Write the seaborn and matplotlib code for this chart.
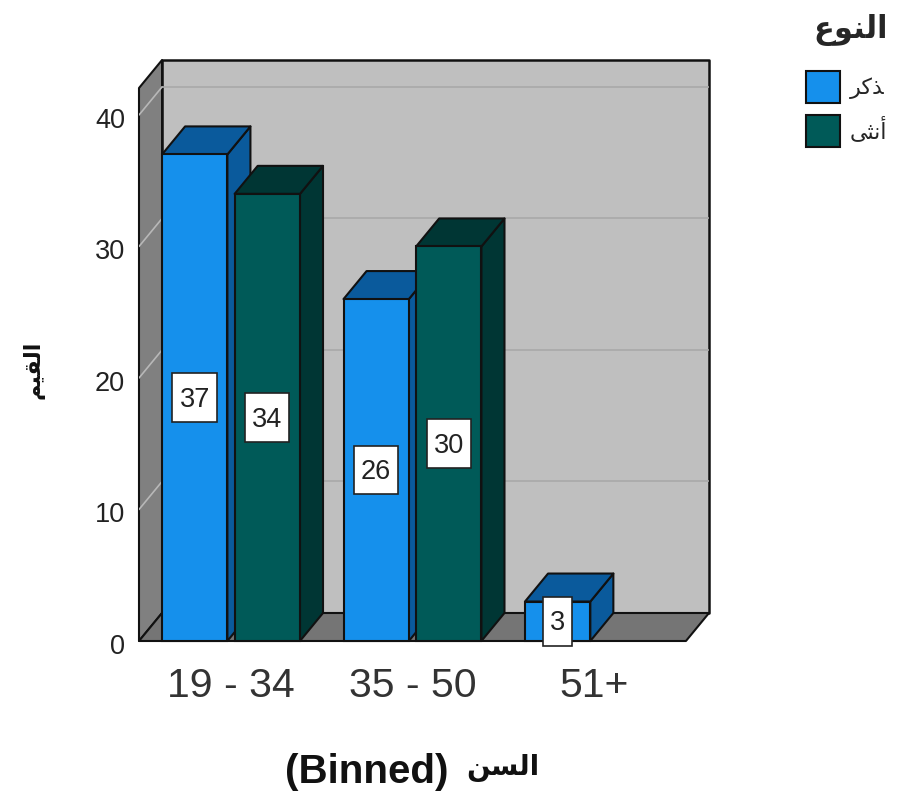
import matplotlib.pyplot as plt
import pandas as pd
import seaborn as sns
from matplotlib.patches import Polygon
from matplotlib.path import Path
from matplotlib.transforms import ScaledTranslation

# arabic is written in presentation forms, in visual order, since matplotlib does no shaping
LEGEND_TITLE = "\ufec9\ufeee\ufee8\ufedf\ufe8d"
MALE = "\ufeae\ufedb\ufeac"
FEMALE = "\ufef0\ufe9c\ufee7\ufe83"
X_TITLE_LATIN = "(Binned)"
X_TITLE_ARABIC = "\ufee6\ufeb4\ufedf\ufe8d"
Y_TITLE = "\ufee2\ufef4\ufed8\ufedf\ufe8d"

age_groups = ["19 - 34", "19 - 34", "35 - 50", "35 - 50", "51+"]
sex = [MALE, FEMALE, MALE, FEMALE, MALE]
counts = [37, 34, 26, 30, 3]
y_ticks = [0, 10, 20, 30, 40]

FACE = {MALE: "#1590ec", FEMALE: "#005a58"}
SHADES = ["#0a5a9c", "#003634"]
BACK_WALL = "#bfbfbf"
SIDE_WALL = "#808080"
FLOOR = "#757575"
Y_MAX = 44.18
DEPTH_X = 0.127
DEPTH_Y = 2.13
X_MIN, X_MAX = -0.507, 2.634


def px_rect(left, top, right, bottom):
    return [left / 898, 1 - bottom / 797, (right - left) / 898, (bottom - top) / 797]


def add_poly(ax, pts, color, z, lw=1.5):
    ax.add_patch(Polygon(pts, closed=True, facecolor=color, edgecolor="#111111", linewidth=lw, zorder=z, clip_on=False, joinstyle="round"))


def label_box(x0, y0, width, height, mutation_size):
    # narrow sideways, tall, like the spss data labels
    pad_x, pad_y = 0.26 * mutation_size, 0.42 * mutation_size
    lift = 2.0
    left, right = x0 - pad_x, x0 + width + pad_x
    low, high = y0 - pad_y + lift, y0 + height + pad_y + lift
    return Path([(left, low), (right, low), (right, high), (left, high), (left, low)], closed=True)


def draw_room(ax):
    x0, x1 = X_MIN, X_MAX - DEPTH_X
    top = Y_MAX - DEPTH_Y
    add_poly(ax, [(x0 + DEPTH_X, DEPTH_Y), (X_MAX, DEPTH_Y), (X_MAX, Y_MAX), (x0 + DEPTH_X, Y_MAX)], BACK_WALL, 0.1, lw=1.8)
    add_poly(ax, [(x0, 0), (x0 + DEPTH_X, DEPTH_Y), (x0 + DEPTH_X, Y_MAX), (x0, top)], SIDE_WALL, 0.2)
    add_poly(ax, [(x0, 0), (x1, 0), (X_MAX, DEPTH_Y), (x0 + DEPTH_X, DEPTH_Y)], FLOOR, 0.3)
    for tick in y_ticks[1:]:
        ax.plot([x0 + DEPTH_X, X_MAX], [tick + DEPTH_Y] * 2, color="#a9a9a9", lw=1.2, zorder=0.4)
        ax.plot([x0, x0 + DEPTH_X], [tick, tick + DEPTH_Y], color="#b8b8b8", lw=1.2, zorder=0.4)


def extrude_bars(ax):
    pairs = [(bar, SHADES[n]) for n, cont in enumerate(ax.containers) for bar in cont]
    pairs.sort(key=lambda item: item[0].get_x())
    for i, (bar, shade) in enumerate(pairs):
        left, right = bar.get_x(), bar.get_x() + bar.get_width()
        height = bar.get_height()
        z = 2 + i
        add_poly(ax, [(right, 0), (right + DEPTH_X, DEPTH_Y), (right + DEPTH_X, height + DEPTH_Y), (right, height)], shade, z)
        add_poly(ax, [(left, height), (right, height), (right + DEPTH_X, height + DEPTH_Y), (left + DEPTH_X, height + DEPTH_Y)], shade, z)
        bar.set_zorder(z + 0.5)
        bar.set_clip_on(False)


def main():
    sns.set_theme(style="white")
    plt.rcParams["font.family"] = ["Liberation Sans", "DejaVu Sans"]
    plot = pd.DataFrame({"age": age_groups, "sex": sex, "count": counts})

    fig = plt.figure(figsize=(8.98, 7.97), dpi=100)
    ax = fig.add_axes(px_rect(139, 60, 709, 641))
    sns.barplot(
        data=plot,
        x="age",
        y="count",
        hue="sex",
        hue_order=[MALE, FEMALE],
        palette=FACE,
        width=0.8,
        gap=0.1,
        saturation=1,
        edgecolor="#111111",
        linewidth=1.5,
        ax=ax,
    )
    ax.set_xlim(X_MIN, X_MAX)
    ax.set_ylim(0, Y_MAX)
    ax.set_yticks(y_ticks)
    sns.despine(ax=ax, left=True, bottom=True, top=True, right=True)
    ax.patch.set_visible(False)

    draw_room(ax)
    extrude_bars(ax)

    for container in ax.containers:
        labels = ax.bar_label(
            container,
            label_type="center",
            fontsize=19.5,
            color="#222222",
            bbox=dict(boxstyle=label_box, facecolor="white", edgecolor="#222222", linewidth=1.2),
            zorder=30,
        )
        for label in labels:
            label.set_clip_on(False)
            label.xyann = (0, -1.5)

    ax.tick_params(axis="y", length=0, pad=10, labelsize=19.5, labelcolor="#222222")
    ax.tick_params(axis="x", length=0, pad=18.5, labelsize=29.5, labelcolor="#333333")
    nudge = ScaledTranslation(0, -2 / 72, fig.dpi_scale_trans)
    for label in ax.get_yticklabels():
        label.set_transform(label.get_transform() + nudge)

    ax.set_xlabel(X_TITLE_LATIN, fontsize=29, fontweight="bold", color="#111111", va="center")
    ax.xaxis.set_label_coords((367 - 139) / 570, -(772 - 641) / 581)
    fig.text(503 / 898, 1 - 768 / 797, X_TITLE_ARABIC, fontsize=20, fontweight="bold", color="#111111", ha="center", va="center")
    ax.set_ylabel(Y_TITLE, fontsize=16, fontweight="bold", color="#111111")
    ax.yaxis.set_label_coords(-(139 - 45) / 570, (641 - 370) / 581)

    sns.move_legend(
        ax,
        loc="upper left",
        bbox_to_anchor=(795 / 898, 1 - 3 / 797),
        bbox_transform=fig.transFigure,
        frameon=False,
        title=LEGEND_TITLE,
        title_fontproperties={"size": 22, "weight": "bold"},
        fontsize=16,
        handlelength=1.53,
        handleheight=1.84,
        handletextpad=0.45,
        labelspacing=0.54,
        borderpad=0,
        alignment="right",
    )
    ax.get_legend()._legend_box.sep = 18

    fig.savefig("out.png", dpi=100)
    plt.close(fig)


if __name__ == "__main__":
    main()
